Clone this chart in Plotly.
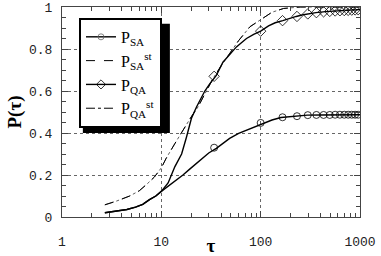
import plotly.graph_objects as go

# ---------------- data ----------------
tau_sa = [2.7, 3.5, 4.5, 5.5, 6.5, 7.6, 8.8, 10, 12, 14, 16.5, 19.3, 24.3, 30, 35.8, 42,
          48.7, 60, 72, 83, 100, 130, 160, 228, 295, 400, 600, 1000]
p_sa = [0.02, 0.028, 0.036, 0.047, 0.06, 0.083, 0.1, 0.122, 0.15, 0.175, 0.2, 0.228, 0.27,
        0.305, 0.327, 0.352, 0.374, 0.398, 0.413, 0.424, 0.443, 0.462, 0.474, 0.481, 0.485,
        0.486, 0.487, 0.487]

tau_qa = [2.7, 3.5, 4.5, 5.5, 6.5, 7.6, 8.8, 10, 11.7, 13.7, 16, 17.9, 20.1, 22.6, 25.4, 27.4,
          30.7, 35.8, 41.7, 45, 50, 57, 64, 72, 85, 100, 120, 140, 167, 200, 228, 260, 295,
          360, 450, 600, 800, 1000]
p_qa = [0.02, 0.028, 0.036, 0.047, 0.06, 0.083, 0.1, 0.122, 0.162, 0.24, 0.30, 0.38, 0.47,
        0.524, 0.57, 0.60, 0.634, 0.674, 0.737, 0.756, 0.78, 0.81, 0.83, 0.85, 0.87, 0.885,
        0.91, 0.925, 0.935, 0.948, 0.955, 0.962, 0.967, 0.973, 0.978, 0.982, 0.985, 0.988]

tau_st = [2.7, 3.5, 4.8, 6, 7.1, 8.5, 10, 11.2, 13.7, 16.5, 20, 23.4, 27.4, 33, 40, 50, 60,
          78, 100, 130, 170, 250, 400, 1000]
p_sa_st = [0.058, 0.075, 0.1, 0.125, 0.155, 0.19, 0.234, 0.28, 0.35, 0.414, 0.477, 0.524,
           0.587, 0.658, 0.72, 0.787, 0.84, 0.906, 0.94, 0.975, 0.993, 1.0, 1.0, 1.0]
p_qa_st = [0.058, 0.075, 0.1, 0.125, 0.155, 0.19, 0.234, 0.28, 0.35, 0.414, 0.477, 0.524,
           0.587, 0.658, 0.72, 0.787, 0.84, 0.906, 0.94, 0.975, 0.993, 1.0, 1.0, 1.0]

tau_marks = [34, 100, 166, 232, 298, 364, 430, 496, 562, 628, 694, 760, 826, 892, 958]
p_sa_marks = [0.33, 0.448, 0.475, 0.48, 0.485, 0.486, 0.486, 0.486, 0.487, 0.487, 0.487,
              0.487, 0.487, 0.487, 0.487]
p_qa_marks = [0.67, 0.885, 0.935, 0.955, 0.967, 0.973, 0.977, 0.979, 0.981, 0.982, 0.983,
              0.984, 0.985, 0.986, 0.987]

names = ["P<sub>SA</sub>", "P<sub>SA</sub><sup>st</sup>",
         "P<sub>QA</sub>", "P<sub>QA</sub><sup>st</sup>"]
y_ticks = [0, 0.2, 0.4, 0.6, 0.8, 1]
x_ticks = [1, 10, 100, 1000]
x_ticklabels = ["1", "10", "100", "1000"]

# ---------------- figure ----------------
fig = go.Figure()
LW = 1.4
# curves
fig.add_trace(go.Scatter(x=tau_st, y=p_qa_st, mode="lines", showlegend=False,
                         line=dict(color="#333", width=0.8, dash="dashdot")))
fig.add_trace(go.Scatter(x=tau_st, y=p_sa_st, mode="lines", showlegend=False,
                         line=dict(color="black", width=1, dash="dash")))
fig.add_trace(go.Scatter(x=tau_sa, y=p_sa, mode="lines", showlegend=False,
                         line=dict(color="black", width=LW)))
fig.add_trace(go.Scatter(x=tau_qa, y=p_qa, mode="lines", showlegend=False,
                         line=dict(color="black", width=LW)))
# markers
fig.add_trace(go.Scatter(x=tau_marks, y=p_sa_marks, mode="markers", showlegend=False,
                         marker=dict(symbol="circle-open", size=7, color="black",
                                     line=dict(width=0.8))))
fig.add_trace(go.Scatter(x=tau_marks, y=p_qa_marks, mode="markers", showlegend=False,
                         marker=dict(symbol="diamond-open", size=8, color="black",
                                     line=dict(width=0.8))))
# legend entries
leg_styles = [
    dict(mode="lines+markers", line=dict(color="black", width=LW),
         marker=dict(symbol="circle-open", size=6, color="#666", line=dict(width=0.8))),
    dict(mode="lines", line=dict(color="black", width=1, dash="dash")),
    dict(mode="lines+markers", line=dict(color="black", width=LW),
         marker=dict(symbol="diamond-open", size=7, color="black", line=dict(width=0.8))),
    dict(mode="lines", line=dict(color="black", width=1, dash="dashdot")),
]
for i, (nm, st) in enumerate(zip(names, leg_styles)):
    fig.add_trace(go.Scatter(x=[None], y=[None], name=nm, legendgroup=f"g{i}", **st))

axis_common = dict(showline=True, linecolor="#444", linewidth=1, mirror="ticks",
                   ticks="inside", tickcolor="#444", ticklen=6, zeroline=False,
                   automargin=False,
                   showgrid=True, gridcolor="#666", griddash="dot", gridwidth=1,
                   tickfont=dict(family="Liberation Mono", size=13, color="#222"))

fig.update_xaxes(type="log", range=[0, 3], tickvals=x_ticks, ticktext=x_ticklabels,
                 ticklabelstandoff=12,
                 minor=dict(ticks="inside", ticklen=4, tickcolor="#444", dtick="D1",
                            showgrid=False),
                 title=dict(text="<b>τ</b>", standoff=0,
                            font=dict(family="Liberation Serif", size=19, color="black")),
                 **axis_common)
fig.update_yaxes(range=[0, 1], tickvals=y_ticks, ticklabelstandoff=6,
                 minor=dict(ticks="inside", ticklen=4, tickcolor="#444", dtick=0.05,
                            showgrid=False),
                 title=dict(text="<b>P(τ)</b>", standoff=2,
                            font=dict(family="Liberation Serif", size=19, color="black")),
                 **axis_common)

# legend shadow
fig.add_shape(type="rect", xref="paper", yref="paper", x0=0.070, x1=0.362, y0=0.400, y1=0.920,
              fillcolor="black", line=dict(width=0), layer="above")

fig.update_layout(
    width=381, height=256,
    margin=dict(l=62, r=21, t=7, b=39),
    paper_bgcolor="white", plot_bgcolor="white",
    showlegend=True,
    legend=dict(x=0.057, y=0.948, xanchor="left", yanchor="top",
                bgcolor="white", bordercolor="black", borderwidth=2,
                tracegroupgap=0,
                font=dict(family="Liberation Serif", size=16, color="black")),
)

fig.write_html("out.html", config={"displayModeBar": False},
               post_script="document.body.style.margin='0px';document.body.style.overflow='hidden';")
